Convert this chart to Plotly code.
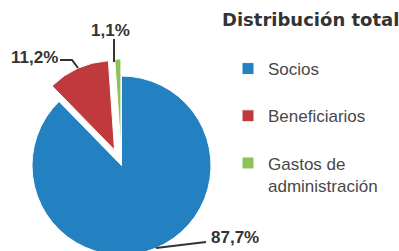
import plotly.graph_objects as go

# ---- data ----
categories = ["Socios", "Beneficiarios", "Gastos de administración"]
values = [87.7, 11.2, 1.1]
colors = ["#2380C1", "#C0393D", "#8DC255"]
pulls = [0, 0.19, 0.19]
title_text = "Distribución total"

W, H = 399, 275  # figure slightly taller than window: the reference crops the pie bottom

# pie geometry (pixels)
cx, cy, r = 121.5, 165.5, 89.5
half = r * (1 + max(pulls))

def px(x):
    return x / W

def py(y):
    return 1 - y / H

legend_labels = [
    "Socios<br> ",
    "Beneficiarios<br> ",
    "Gastos de<br>administración",
]

fig = go.Figure(
    go.Pie(
        labels=legend_labels,
        values=values,
        sort=False,
        direction="clockwise",
        rotation=0,
        pull=pulls,
        marker=dict(colors=colors, line=dict(color="white", width=1)),
        textinfo="none",
        hoverinfo="label+percent",
        domain=dict(x=[px(cx - half), px(cx + half)], y=[py(cy + half), py(cy - half)]),
    )
)

def fmt(v):
    return f"{v:.1f}".replace(".", ",") + "%"

label_font = dict(family="Liberation Sans, Arial, sans-serif", size=17, color="#333333")
label_pos = [(235, 237), (34, 57), (110, 30)]
annotations = []
for v, (lx, ly) in zip(values, label_pos):
    annotations.append(dict(
        text="<b>" + fmt(v) + "</b>", x=px(lx), y=py(ly), xref="paper", yref="paper",
        showarrow=False, font=label_font, xanchor="center", yanchor="middle",
    ))

lines = [
    [(206, 242), (156, 248)],
    [(60, 60), (72, 60), (78, 68)],
    [(114, 39), (114, 62)],
]
shapes = []
for pts in lines:
    path = "M " + " L ".join(f"{px(x)},{py(y)}" for x, y in pts)
    shapes.append(dict(type="path", path=path, xref="paper", yref="paper",
                       line=dict(color="#333333", width=2)))

fig.update_layout(
    width=W, height=H,
    margin=dict(l=0, r=0, t=0, b=0),
    paper_bgcolor="white", plot_bgcolor="white",
    title=dict(text="<b>" + title_text + "</b>", x=px(222), xanchor="left", xref="container",
               y=1 - 20 / H, yanchor="middle", yref="container",
               font=dict(family="DejaVu Sans, sans-serif", size=18, color="#333333")),
    showlegend=True,
    legend=dict(x=px(228), xanchor="left", y=py(51), yanchor="top", valign="top",
                font=dict(family="Liberation Sans, Arial, sans-serif", size=17, color="#484848"),
                bgcolor="rgba(0,0,0,0)"),
    annotations=annotations,
    shapes=shapes,
)

fig.write_html(
    "out.html",
    config={"displayModeBar": False},
    post_script="document.body.style.margin='0';document.body.style.overflow='hidden';",
)
